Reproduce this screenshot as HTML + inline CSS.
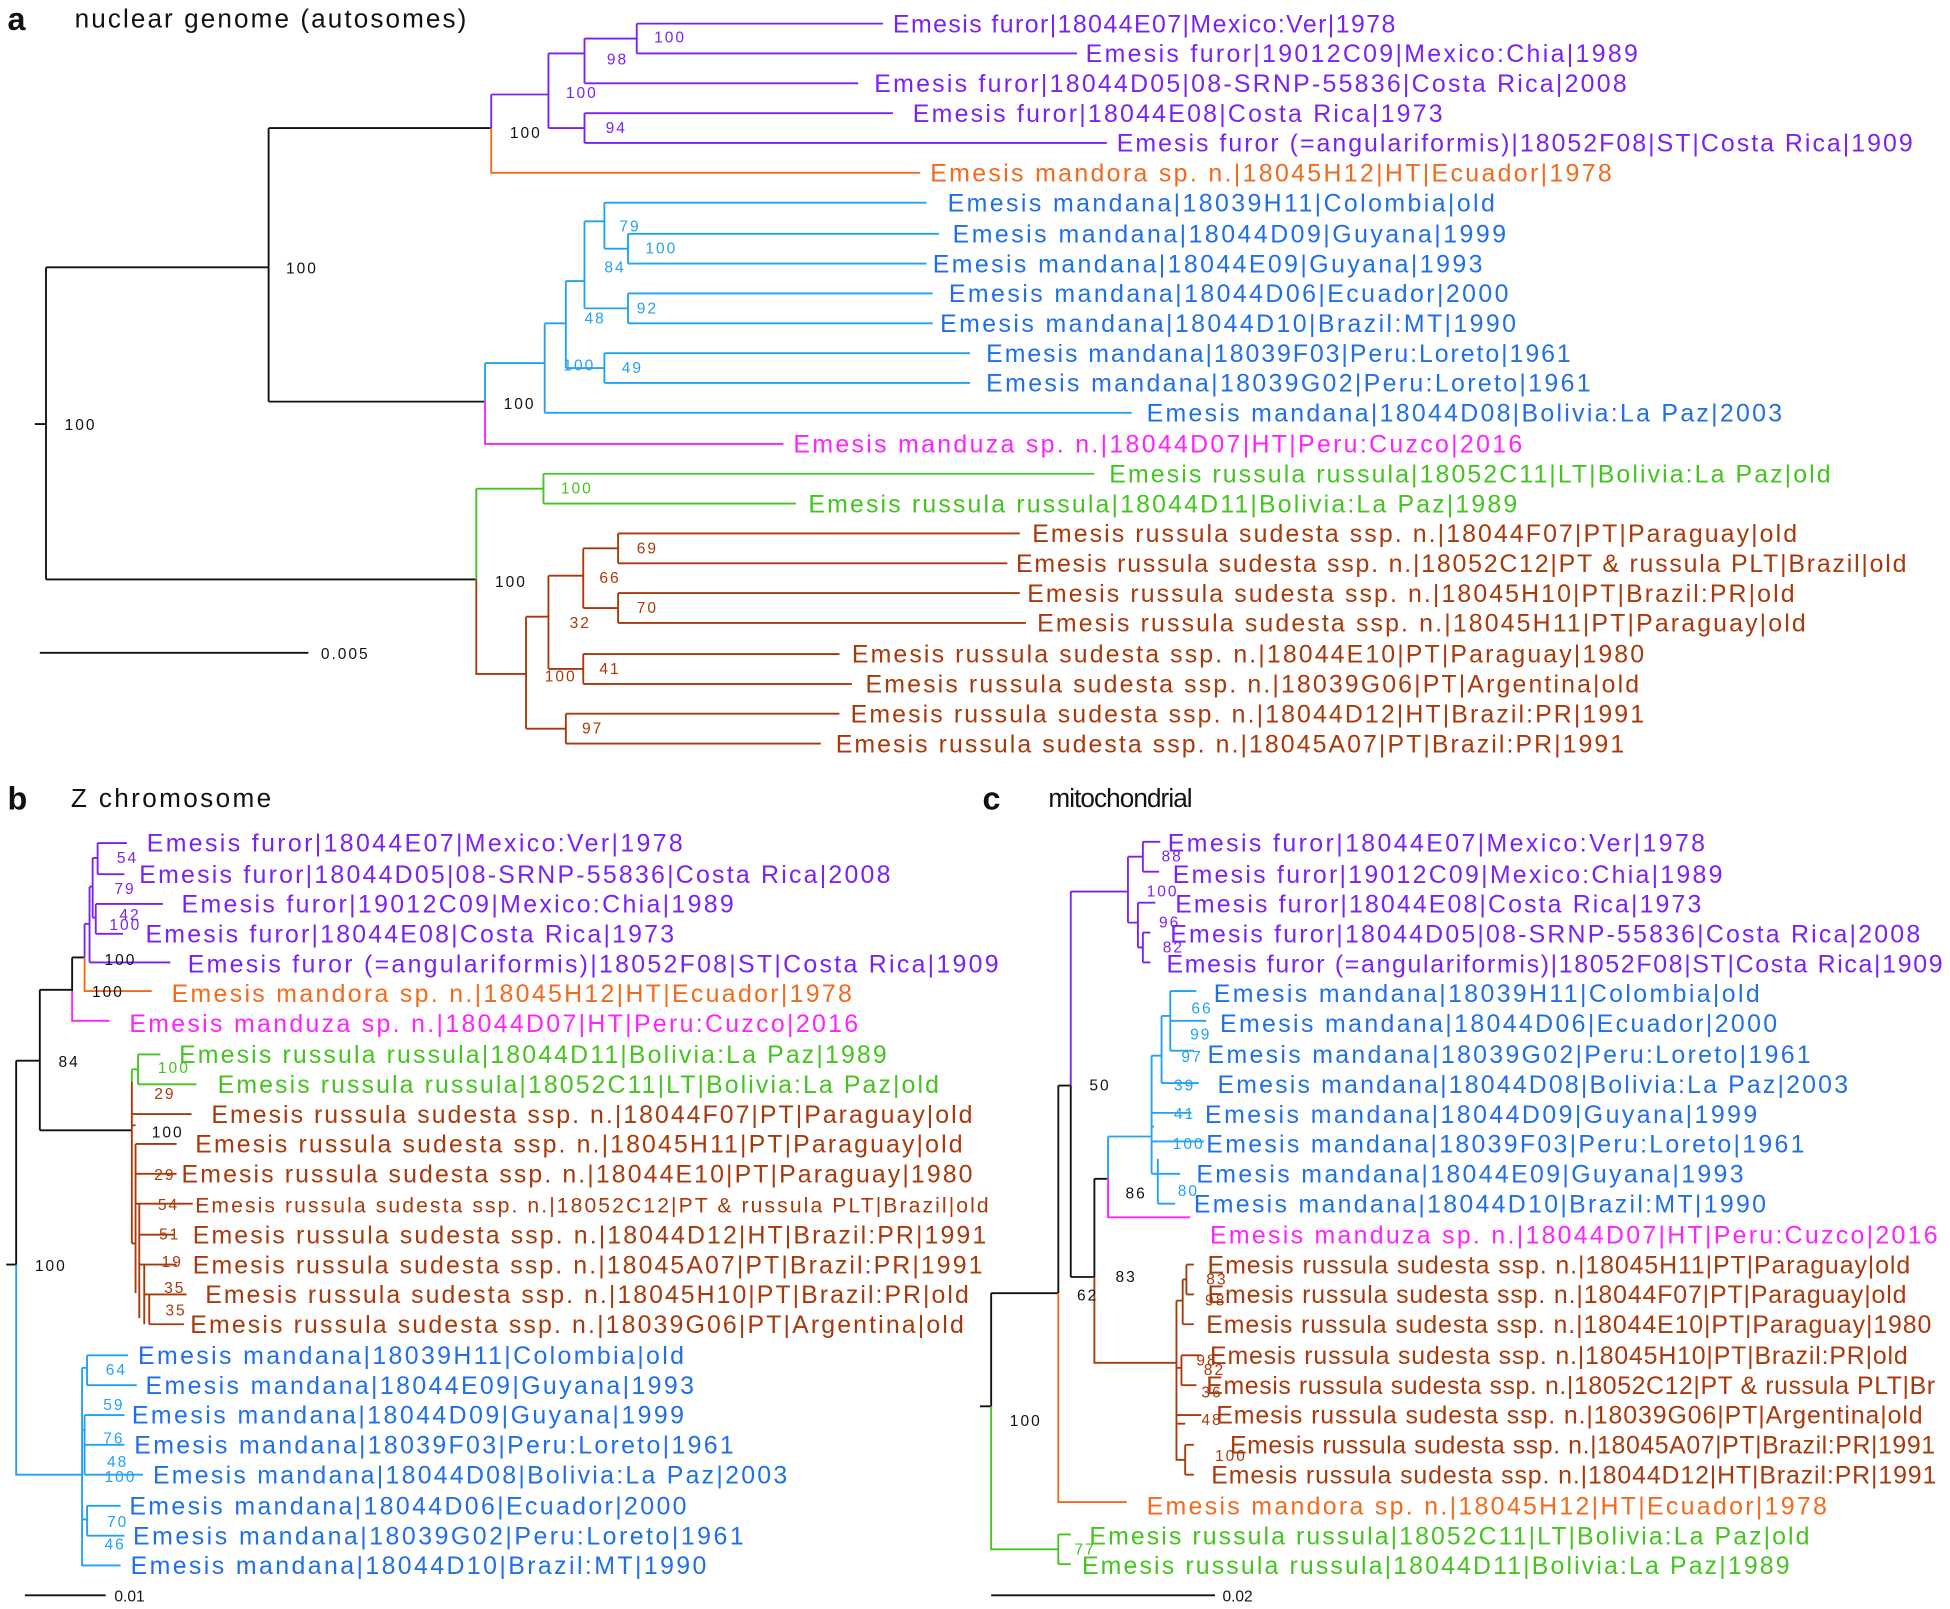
<!DOCTYPE html>
<html><head><meta charset="utf-8"><style>
html,body{margin:0;padding:0;background:#fff}
svg{display:block}
text{font-family:"Liberation Sans",Arial,sans-serif}
.t{font-size:20px}
.s{font-size:12.5px;letter-spacing:1.6px}
.P{fill:#7a22f5}.O{fill:#f26a1b}.B{fill:#1f6fe8}.LB{fill:#22a2f2}.M{fill:#ff22ff}.G{fill:#44c41f}.R{fill:#a8390a}.K{fill:#111}
path{fill:none;stroke-width:1.5}
.p{stroke:#7a22f5}.o{stroke:#f26a1b}.b{stroke:#22a2f2}.m{stroke:#ff22ff}.g{stroke:#44c41f}.r{stroke:#a8390a}.k{stroke:#111}
</style></head><body>
<svg width="1950" height="1609" viewBox="0 0 1568 1294" preserveAspectRatio="none" xmlns="http://www.w3.org/2000/svg">
<!-- Panel a -->
<text x="6" y="24" style="font-size:26px;font-weight:bold" class="K">a</text>
<text x="60" y="22" style="font-size:21px" class="K" textLength="315" lengthAdjust="spacing">nuclear genome (autosomes)</text>
<path class="k" d="M28 341H37M37 215V466M37 215H216M216 103V323M216 103H395M216 323H390M37 466H383"/>
<path class="p" d="M395 76V103M395 76H441M441 43V103M441 43H470M470 31V67M470 31H512M512 19V43M512 19H710M512 43H866M470 67H690M441 103H470M470 91V115M470 91H718M470 115H890"/>
<path class="o" d="M395 103V139H740"/>
<path class="b" d="M390 292V323M390 292H438M438 260V332M438 332H910M438 260H455M455 226V296M455 296H486M486 284V308M486 284H780M486 308H780M455 226H470M470 178V248M470 248H505M505 236V260M505 236H750M505 260H750M470 178H486M486 163V200M486 163H745M486 200H505M505 188V212M505 188H755M505 212H745"/>
<path class="m" d="M390 323V357H630"/>
<path class="g" d="M383 393V466M383 393H437M437 381V405M437 381H880M437 405H640"/>
<path class="r" d="M383 466V542H423M423 496V586M423 496H441M441 463V538M441 463H469M469 441V489M469 441H497M497 429V453M497 429H820M497 453H810M469 489H497M497 477V501M497 477H820M497 501H825M441 538H469M469 526V550M469 526H675M469 550H685M423 586H455M455 574V598M455 574H675M455 598H660"/>
<path class="k" d="M32 525H248"/>
<text x="258" y="530" class="s K">0.005</text>
<g class="s">
<text x="526" y="34" class="P">100</text><text x="488" y="52" class="P">98</text><text x="455" y="79" class="P">100</text><text x="487" y="107" class="P">94</text>
<text x="410" y="111" class="K">100</text><text x="230" y="220" class="K">100</text><text x="52" y="346" class="K">100</text>
<text x="498" y="186" class="LB">79</text><text x="519" y="204" class="LB">100</text><text x="486" y="219" class="LB">84</text><text x="512" y="252" class="LB">92</text><text x="470" y="260" class="LB">48</text><text x="453" y="298" class="LB">100</text><text x="500" y="300" class="LB">49</text>
<text x="405" y="329" class="K">100</text><text x="451" y="397" class="G">100</text><text x="398" y="472" class="K">100</text>
<text x="512" y="445" class="R">69</text><text x="482" y="469" class="R">66</text><text x="512" y="493" class="R">70</text><text x="458" y="505" class="R">32</text><text x="482" y="542" class="R">41</text><text x="438" y="548" class="R">100</text><text x="468" y="590" class="R">97</text>
</g>
<g class="t">
<text x="718" y="26" class="P" textLength="404" lengthAdjust="spacing">Emesis furor|18044E07|Mexico:Ver|1978</text>
<text x="873" y="50" class="P" textLength="444" lengthAdjust="spacing">Emesis furor|19012C09|Mexico:Chia|1989</text>
<text x="703" y="74" class="P" textLength="605" lengthAdjust="spacing">Emesis furor|18044D05|08-SRNP-55836|Costa Rica|2008</text>
<text x="734" y="98" class="P" textLength="426" lengthAdjust="spacing">Emesis furor|18044E08|Costa Rica|1973</text>
<text x="898" y="122" class="P" textLength="640" lengthAdjust="spacing">Emesis furor (=angulariformis)|18052F08|ST|Costa Rica|1909</text>
<text x="748" y="146" class="O" textLength="548" lengthAdjust="spacing">Emesis mandora sp. n.|18045H12|HT|Ecuador|1978</text>
<text x="762" y="170" class="B" textLength="440" lengthAdjust="spacing">Emesis mandana|18039H11|Colombia|old</text>
<text x="766" y="195" class="B" textLength="445" lengthAdjust="spacing">Emesis mandana|18044D09|Guyana|1999</text>
<text x="750" y="219" class="B" textLength="442" lengthAdjust="spacing">Emesis mandana|18044E09|Guyana|1993</text>
<text x="763" y="243" class="B" textLength="450" lengthAdjust="spacing">Emesis mandana|18044D06|Ecuador|2000</text>
<text x="756" y="267" class="B" textLength="463" lengthAdjust="spacing">Emesis mandana|18044D10|Brazil:MT|1990</text>
<text x="793" y="291" class="B" textLength="470" lengthAdjust="spacing">Emesis mandana|18039F03|Peru:Loreto|1961</text>
<text x="793" y="315" class="B" textLength="486" lengthAdjust="spacing">Emesis mandana|18039G02|Peru:Loreto|1961</text>
<text x="922" y="339" class="B" textLength="511" lengthAdjust="spacing">Emesis mandana|18044D08|Bolivia:La Paz|2003</text>
<text x="638" y="364" class="M" textLength="586" lengthAdjust="spacing">Emesis manduza sp. n.|18044D07|HT|Peru:Cuzco|2016</text>
<text x="892" y="388" class="G" textLength="580" lengthAdjust="spacing">Emesis russula russula|18052C11|LT|Bolivia:La Paz|old</text>
<text x="650" y="412" class="G" textLength="570" lengthAdjust="spacing">Emesis russula russula|18044D11|Bolivia:La Paz|1989</text>
<text x="830" y="436" class="R" textLength="615" lengthAdjust="spacing">Emesis russula sudesta ssp. n.|18044F07|PT|Paraguay|old</text>
<text x="817" y="460" class="R" textLength="716" lengthAdjust="spacing">Emesis russula sudesta ssp. n.|18052C12|PT &amp; russula PLT|Brazil|old</text>
<text x="826" y="484" class="R" textLength="617" lengthAdjust="spacing">Emesis russula sudesta ssp. n.|18045H10|PT|Brazil:PR|old</text>
<text x="834" y="508" class="R" textLength="618" lengthAdjust="spacing">Emesis russula sudesta ssp. n.|18045H11|PT|Paraguay|old</text>
<text x="685" y="533" class="R" textLength="637" lengthAdjust="spacing">Emesis russula sudesta ssp. n.|18044E10|PT|Paraguay|1980</text>
<text x="696" y="557" class="R" textLength="622" lengthAdjust="spacing">Emesis russula sudesta ssp. n.|18039G06|PT|Argentina|old</text>
<text x="684" y="581" class="R" textLength="638" lengthAdjust="spacing">Emesis russula sudesta ssp. n.|18044D12|HT|Brazil:PR|1991</text>
<text x="672" y="605" class="R" textLength="634" lengthAdjust="spacing">Emesis russula sudesta ssp. n.|18045A07|PT|Brazil:PR|1991</text>
</g>

<!-- Panel b -->
<text x="6" y="651" style="font-size:26px;font-weight:bold" class="K">b</text>
<text x="57" y="649" style="font-size:21px" class="K" textLength="161" lengthAdjust="spacing">Z chromosome</text>
<path class="k" d="M5 1017H13M13 853V1017M13 853H32M32 796V909M32 796H58M58 770V797M58 770H68M32 909H106"/>
<path class="m" d="M58 797V821H88"/>
<path class="o" d="M68 770V797H122"/>
<path class="p" d="M68 743V770M68 743H72M72 713V774M72 774H137M72 713H74.5M74.5 690V738M74.5 690H78.5M78.5 678V703M78.5 678H102M78.5 703H100M74.5 738H77M77 727V751M77 727H131M77 751H99"/>
<path class="g" d="M106 860V870M106 860H111M111 848V872M111 848H129M111 872H158"/>
<path class="r" d="M106 870V1000M106 896H154M106 905H109M109 920V1040M109 920H142M109 944H142M109 968H112M112 968V1060M112 968H155M112 993H140M112 1017H116M116 1017V1065M116 1017H142M116 1041H120M120 1041V1065M120 1041H150M120 1065H148M106 1000H109"/>
<path class="b" d="M13 1017V1186H66M66 1100V1245M66 1100H70M70 1090V1114M70 1090H103M70 1114H110M66 1150H68M68 1138V1186M68 1138H100M68 1162H100M68 1186H115M66 1222H70M70 1211V1235M70 1211H97M70 1235H100M66 1245V1259H97"/>
<path class="k" d="M20 1283H85"/>
<text x="92" y="1288" class="s K" style="letter-spacing:0">0.01</text>
<g class="s">
<text x="94" y="694" class="P">54</text><text x="92" y="719" class="P">79</text><text x="96" y="740" class="P">42</text><text x="88" y="748" class="P">100</text>
<text x="84" y="776" class="K">100</text><text x="74" y="802" class="K">100</text><text x="47" y="858" class="K">84</text><text x="28" y="1022" class="K">100</text>
<text x="127" y="863" class="G">100</text><text x="124" y="884" class="R">29</text><text x="122" y="915" class="K">100</text>
<text x="124" y="949" class="R">29</text><text x="127" y="973" class="R">54</text><text x="128" y="997" class="R">51</text><text x="130" y="1019" class="R">19</text><text x="132" y="1040" class="R">35</text><text x="133" y="1058" class="R">35</text>
<text x="85" y="1106" class="LB">64</text><text x="83" y="1134" class="LB">59</text><text x="83" y="1161" class="LB">76</text><text x="86" y="1180" class="LB">48</text><text x="84" y="1192" class="LB">100</text><text x="86" y="1228" class="LB">70</text><text x="84" y="1246" class="LB">46</text>
</g>
<g class="t">
<text x="118" y="685" class="P" textLength="431" lengthAdjust="spacing">Emesis furor|18044E07|Mexico:Ver|1978</text>
<text x="112" y="710" class="P" textLength="604" lengthAdjust="spacing">Emesis furor|18044D05|08-SRNP-55836|Costa Rica|2008</text>
<text x="146" y="734" class="P" textLength="444" lengthAdjust="spacing">Emesis furor|19012C09|Mexico:Chia|1989</text>
<text x="117" y="758" class="P" textLength="425" lengthAdjust="spacing">Emesis furor|18044E08|Costa Rica|1973</text>
<text x="151" y="782" class="P" textLength="652" lengthAdjust="spacing">Emesis furor (=angulariformis)|18052F08|ST|Costa Rica|1909</text>
<text x="138" y="806" class="O" textLength="547" lengthAdjust="spacing">Emesis mandora sp. n.|18045H12|HT|Ecuador|1978</text>
<text x="104" y="830" class="M" textLength="586" lengthAdjust="spacing">Emesis manduza sp. n.|18044D07|HT|Peru:Cuzco|2016</text>
<text x="144" y="855" class="G" textLength="569" lengthAdjust="spacing">Emesis russula russula|18044D11|Bolivia:La Paz|1989</text>
<text x="175" y="879" class="G" textLength="580" lengthAdjust="spacing">Emesis russula russula|18052C11|LT|Bolivia:La Paz|old</text>
<text x="170" y="903" class="R" textLength="612" lengthAdjust="spacing">Emesis russula sudesta ssp. n.|18044F07|PT|Paraguay|old</text>
<text x="157" y="927" class="R" textLength="617" lengthAdjust="spacing">Emesis russula sudesta ssp. n.|18045H11|PT|Paraguay|old</text>
<text x="146" y="951" class="R" textLength="636" lengthAdjust="spacing">Emesis russula sudesta ssp. n.|18044E10|PT|Paraguay|1980</text>
<text x="157" y="975" class="R" style="font-size:17px" textLength="638" lengthAdjust="spacing">Emesis russula sudesta ssp. n.|18052C12|PT &amp; russula PLT|Brazil|old</text>
<text x="155" y="1000" class="R" textLength="638" lengthAdjust="spacing">Emesis russula sudesta ssp. n.|18044D12|HT|Brazil:PR|1991</text>
<text x="155" y="1024" class="R" textLength="635" lengthAdjust="spacing">Emesis russula sudesta ssp. n.|18045A07|PT|Brazil:PR|1991</text>
<text x="165" y="1048" class="R" textLength="614" lengthAdjust="spacing">Emesis russula sudesta ssp. n.|18045H10|PT|Brazil:PR|old</text>
<text x="153" y="1072" class="R" textLength="622" lengthAdjust="spacing">Emesis russula sudesta ssp. n.|18039G06|PT|Argentina|old</text>
<text x="111" y="1097" class="B" textLength="439" lengthAdjust="spacing">Emesis mandana|18039H11|Colombia|old</text>
<text x="117" y="1121" class="B" textLength="441" lengthAdjust="spacing">Emesis mandana|18044E09|Guyana|1993</text>
<text x="106" y="1145" class="B" textLength="444" lengthAdjust="spacing">Emesis mandana|18044D09|Guyana|1999</text>
<text x="108" y="1169" class="B" textLength="482" lengthAdjust="spacing">Emesis mandana|18039F03|Peru:Loreto|1961</text>
<text x="123" y="1193" class="B" textLength="510" lengthAdjust="spacing">Emesis mandana|18044D08|Bolivia:La Paz|2003</text>
<text x="104" y="1218" class="B" textLength="448" lengthAdjust="spacing">Emesis mandana|18044D06|Ecuador|2000</text>
<text x="107" y="1242" class="B" textLength="491" lengthAdjust="spacing">Emesis mandana|18039G02|Peru:Loreto|1961</text>
<text x="105" y="1266" class="B" textLength="463" lengthAdjust="spacing">Emesis mandana|18044D10|Brazil:MT|1990</text>
</g>

<!-- Panel c -->
<text x="790" y="651" style="font-size:26px;font-weight:bold" class="K">c</text>
<text x="843" y="649" style="font-size:21px" class="K" textLength="116" lengthAdjust="spacing">mitochondrial</text>
<path class="k" d="M788 1131H797M797 1040V1131M797 1040H851M851 873V1040M851 873H861M861 873V1027M861 1027H880M880 948V1027M880 948H891"/>
<path class="g" d="M797 1131V1246H851M851 1234V1258M851 1234H861M851 1258H861"/>
<path class="o" d="M851 1040V1208H906"/>
<path class="p" d="M861 717V873M861 717H907M907 689V742M907 689H919M919 677V701M919 677H933M919 701H932M907 742H915M915 726V762M915 726H929M915 762H919M919 750V774M919 750H925M919 774H925"/>
<path class="b" d="M891 914V948M891 914H926M926 849V944M926 849H934M934 817V871M934 817H941M941 797V845M941 797H962M941 821H970M941 845H960M934 871H964M926 906H928M926 895H958M926 918H968M926 944H931M931 932V968M931 944H949M931 968H945"/>
<path class="m" d="M891 948V979H957"/>
<path class="r" d="M880 1027V1096H946M946 1046V1145M946 1046H951M951 1029V1065M951 1029H954M954 1017V1041M954 1017H960M954 1041H960M951 1065H960M946 1100H950M950 1090V1114M950 1090H966M950 1114H962M946 1138H966M946 1145H953M953 1162V1186M953 1162H960M953 1186H960M946 1145V1174H953"/>
<path class="k" d="M797 1283H977"/>
<text x="983" y="1288" class="s K" style="letter-spacing:0">0.02</text>
<g class="s">
<text x="934" y="693" class="P">88</text><text x="922" y="721" class="P">100</text><text x="932" y="746" class="P">96</text><text x="935" y="766" class="P">82</text>
<text x="876" y="877" class="K">50</text><text x="905" y="964" class="K">86</text><text x="897" y="1031" class="K">83</text><text x="866" y="1046" class="K">62</text><text x="812" y="1147" class="K">100</text>
<text x="958" y="815" class="LB">66</text><text x="957" y="836" class="LB">99</text><text x="950" y="854" class="LB">97</text><text x="944" y="877" class="LB">39</text><text x="944" y="900" class="LB">41</text><text x="943" y="924" class="LB">100</text><text x="947" y="962" class="LB">80</text>
<text x="970" y="1033" class="R">83</text><text x="969" y="1050" class="R">98</text><text x="962" y="1098" class="R">98</text><text x="968" y="1106" class="R">82</text><text x="966" y="1124" class="R">36</text><text x="966" y="1146" class="R">48</text><text x="977" y="1175" class="R">100</text>
<text x="864" y="1250" class="G">77</text>
</g>
<g class="t">
<text x="939" y="685" class="P" textLength="432" lengthAdjust="spacing">Emesis furor|18044E07|Mexico:Ver|1978</text>
<text x="943" y="710" class="P" textLength="442" lengthAdjust="spacing">Emesis furor|19012C09|Mexico:Chia|1989</text>
<text x="945" y="734" class="P" textLength="423" lengthAdjust="spacing">Emesis furor|18044E08|Costa Rica|1973</text>
<text x="941" y="758" class="P" textLength="603" lengthAdjust="spacing">Emesis furor|18044D05|08-SRNP-55836|Costa Rica|2008</text>
<text x="938" y="782" class="P" textLength="624" lengthAdjust="spacing">Emesis furor (=angulariformis)|18052F08|ST|Costa Rica|1909</text>
<text x="976" y="806" class="B" textLength="439" lengthAdjust="spacing">Emesis mandana|18039H11|Colombia|old</text>
<text x="981" y="830" class="B" textLength="448" lengthAdjust="spacing">Emesis mandana|18044D06|Ecuador|2000</text>
<text x="971" y="855" class="B" textLength="485" lengthAdjust="spacing">Emesis mandana|18039G02|Peru:Loreto|1961</text>
<text x="979" y="879" class="B" textLength="507" lengthAdjust="spacing">Emesis mandana|18044D08|Bolivia:La Paz|2003</text>
<text x="969" y="903" class="B" textLength="444" lengthAdjust="spacing">Emesis mandana|18044D09|Guyana|1999</text>
<text x="970" y="927" class="B" textLength="481" lengthAdjust="spacing">Emesis mandana|18039F03|Peru:Loreto|1961</text>
<text x="962" y="951" class="B" textLength="440" lengthAdjust="spacing">Emesis mandana|18044E09|Guyana|1993</text>
<text x="960" y="975" class="B" textLength="460" lengthAdjust="spacing">Emesis mandana|18044D10|Brazil:MT|1990</text>
<text x="973" y="1000" class="M" textLength="585" lengthAdjust="spacing">Emesis manduza sp. n.|18044D07|HT|Peru:Cuzco|2016</text>
<text x="971" y="1024" class="R" textLength="565" lengthAdjust="spacing">Emesis russula sudesta ssp. n.|18045H11|PT|Paraguay|old</text>
<text x="971" y="1048" class="R" textLength="562" lengthAdjust="spacing">Emesis russula sudesta ssp. n.|18044F07|PT|Paraguay|old</text>
<text x="970" y="1072" class="R" textLength="583" lengthAdjust="spacing">Emesis russula sudesta ssp. n.|18044E10|PT|Paraguay|1980</text>
<text x="973" y="1097" class="R" textLength="561" lengthAdjust="spacing">Emesis russula sudesta ssp. n.|18045H10|PT|Brazil:PR|old</text>
<text x="970" y="1121" class="R" textLength="586" lengthAdjust="spacing">Emesis russula sudesta ssp. n.|18052C12|PT &amp; russula PLT|Br</text>
<text x="978" y="1145" class="R" textLength="568" lengthAdjust="spacing">Emesis russula sudesta ssp. n.|18039G06|PT|Argentina|old</text>
<text x="989" y="1169" class="R" textLength="567" lengthAdjust="spacing">Emesis russula sudesta ssp. n.|18045A07|PT|Brazil:PR|1991</text>
<text x="974" y="1193" class="R" textLength="583" lengthAdjust="spacing">Emesis russula sudesta ssp. n.|18044D12|HT|Brazil:PR|1991</text>
<text x="922" y="1218" class="O" textLength="547" lengthAdjust="spacing">Emesis mandora sp. n.|18045H12|HT|Ecuador|1978</text>
<text x="876" y="1242" class="G" textLength="579" lengthAdjust="spacing">Emesis russula russula|18052C11|LT|Bolivia:La Paz|old</text>
<text x="870" y="1266" class="G" textLength="569" lengthAdjust="spacing">Emesis russula russula|18044D11|Bolivia:La Paz|1989</text>
</g>
</svg>
</body></html>
